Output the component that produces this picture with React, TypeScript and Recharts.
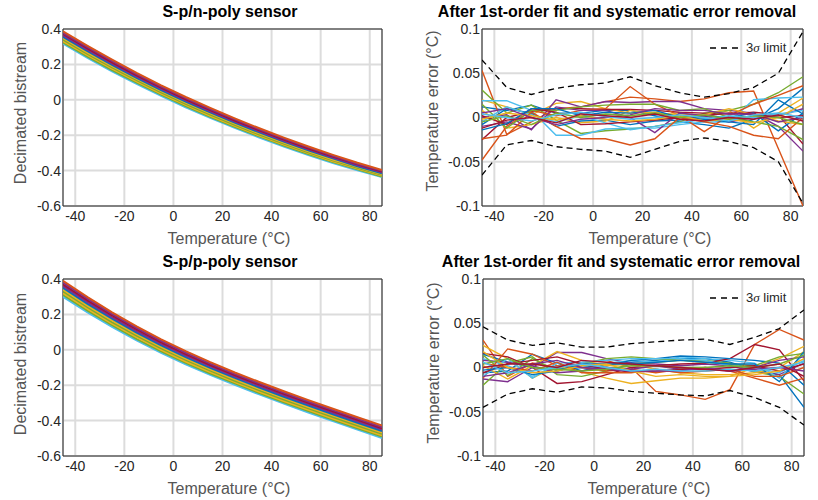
import React from "react";
import { LineChart, Line, XAxis, YAxis, CartesianGrid, ReferenceArea } from "recharts";

const FONT = '"Liberation Sans", Arial, Helvetica, sans-serif';
const TICK = "#262626";
const LABEL = "#555555";

// MATLAB default colour order
const BLUE = "#0072BD";
const ORANGE = "#D95319";
const YELLOW = "#EDB120";
const PURPLE = "#7E2F8E";
const GREEN = "#77AC30";
const CYAN = "#4DBEEE";
const WINE = "#A2142F";
const cycle = [BLUE, ORANGE, YELLOW, PURPLE, GREEN, CYAN, WINE];

// temperature sweep (°C) and tick labels
const temps = [-45, -35, -25, -15, -5, 5, 15, 25, 35, 45, 55, 65, 75, 85];
const tempTicks = [-40, -20, 0, 20, 40, 60, 80];
const bitTicks = [-0.6, -0.4, -0.2, 0, 0.2, 0.4];
const errTicks = [-0.1, -0.05, 0, 0.05, 0.1];

// S-p/n-poly sensor: decimated bitstream, top of the band to bottom
const nPoly01 = [0.387, 0.305, 0.227, 0.152, 0.082, 0.016, -0.046, -0.105, -0.161, -0.214, -0.264, -0.311, -0.356, -0.397];
const nPoly02 = [0.379, 0.298, 0.22, 0.145, 0.075, 0.01, -0.052, -0.111, -0.167, -0.219, -0.269, -0.316, -0.361, -0.401];
const nPoly03 = [0.372, 0.29, 0.212, 0.138, 0.069, 0.003, -0.058, -0.117, -0.172, -0.225, -0.275, -0.321, -0.365, -0.406];
const nPoly04 = [0.364, 0.282, 0.205, 0.131, 0.062, -0.003, -0.065, -0.123, -0.178, -0.231, -0.28, -0.326, -0.37, -0.41];
const nPoly05 = [0.356, 0.275, 0.198, 0.124, 0.055, -0.01, -0.071, -0.129, -0.184, -0.236, -0.285, -0.331, -0.375, -0.415];
const nPoly06 = [0.348, 0.267, 0.19, 0.118, 0.049, -0.016, -0.077, -0.135, -0.19, -0.242, -0.291, -0.337, -0.379, -0.419];
const nPoly07 = [0.34, 0.26, 0.183, 0.111, 0.042, -0.023, -0.083, -0.141, -0.196, -0.247, -0.296, -0.342, -0.384, -0.424];
const nPoly08 = [0.332, 0.252, 0.176, 0.104, 0.035, -0.029, -0.09, -0.147, -0.202, -0.253, -0.301, -0.347, -0.389, -0.428];
const nPoly09 = [0.325, 0.244, 0.168, 0.097, 0.029, -0.036, -0.096, -0.153, -0.207, -0.259, -0.307, -0.352, -0.393, -0.433];
const nPoly10 = [0.317, 0.237, 0.161, 0.09, 0.022, -0.042, -0.102, -0.159, -0.213, -0.264, -0.312, -0.357, -0.398, -0.437];

// S-p/p-poly sensor
const pPoly01 = [0.39, 0.298, 0.212, 0.133, 0.059, -0.008, -0.07, -0.128, -0.182, -0.234, -0.284, -0.333, -0.381, -0.428];
const pPoly02 = [0.38, 0.289, 0.203, 0.124, 0.051, -0.016, -0.078, -0.136, -0.19, -0.242, -0.292, -0.341, -0.389, -0.436];
const pPoly03 = [0.37, 0.279, 0.194, 0.115, 0.042, -0.024, -0.086, -0.143, -0.197, -0.249, -0.299, -0.348, -0.396, -0.443];
const pPoly04 = [0.36, 0.269, 0.185, 0.106, 0.034, -0.033, -0.094, -0.151, -0.205, -0.257, -0.307, -0.356, -0.404, -0.451];
const pPoly05 = [0.35, 0.26, 0.176, 0.097, 0.025, -0.041, -0.102, -0.159, -0.213, -0.265, -0.315, -0.364, -0.412, -0.459];
const pPoly06 = [0.34, 0.25, 0.166, 0.089, 0.017, -0.049, -0.11, -0.167, -0.221, -0.273, -0.323, -0.372, -0.42, -0.467];
const pPoly07 = [0.33, 0.241, 0.157, 0.08, 0.008, -0.057, -0.118, -0.175, -0.229, -0.281, -0.331, -0.38, -0.428, -0.475];
const pPoly08 = [0.32, 0.231, 0.148, 0.071, 0.0, -0.066, -0.126, -0.183, -0.237, -0.289, -0.339, -0.388, -0.436, -0.483];
const pPoly09 = [0.31, 0.221, 0.139, 0.062, -0.009, -0.074, -0.134, -0.19, -0.244, -0.296, -0.346, -0.395, -0.443, -0.49];
const pPoly10 = [0.3, 0.212, 0.13, 0.053, -0.017, -0.082, -0.142, -0.198, -0.252, -0.304, -0.354, -0.403, -0.451, -0.498];

const bandColors = [ORANGE, PURPLE, WINE, PURPLE, BLUE, YELLOW, GREEN, YELLOW, GREEN, CYAN];

// n-poly residual temperature error (°C) after 1st-order fit
const errN01 = [0.012, 0.008, 0.014, 0.005, 0.005, 0.008, 0.008, 0.002, -0.005, -0.008, -0.012, -0.002, 0.01, 0.033];
const errN02 = [0.053, -0.019, -0.005, 0.01, 0.012, 0.018, 0.023, 0.021, 0.018, 0.021, 0.028, 0.03, -0.035, -0.1];
const errN03 = [0.02, 0.012, 0.003, 0.016, 0.018, 0.01, 0.005, 0.006, 0.002, 0.0, 0.008, -0.012, 0.005, 0.022];
const errN04 = [0.0, 0.003, -0.014, 0.02, 0.012, 0.018, 0.017, 0.018, 0.018, 0.01, 0.008, 0.005, -0.01, -0.038];
const errN05 = [0.031, 0.005, 0.014, -0.003, -0.018, -0.015, -0.013, -0.01, -0.005, 0.005, 0.008, 0.015, 0.028, 0.046];
const errN06 = [0.019, 0.019, 0.008, -0.02, -0.02, -0.013, -0.012, -0.012, -0.008, -0.005, -0.005, 0.02, 0.022, 0.023];
const errN07 = [-0.025, 0.0, 0.007, 0.01, 0.01, 0.009, 0.009, 0.008, 0.006, 0.005, 0.004, 0.006, 0.003, -0.03];
const errN08 = [-0.008, 0.01, 0.005, -0.01, -0.004, -0.003, -0.008, -0.004, -0.003, 0.002, 0.0, 0.005, -0.015, 0.005];
const errN09 = [-0.048, -0.01, 0.008, 0.002, 0.008, 0.01, 0.035, 0.015, 0.002, -0.016, 0.002, 0.015, 0.025, 0.036];
const errN10 = [0.008, -0.012, -0.008, 0.0, -0.006, -0.004, 0.008, 0.004, 0.004, 0.003, 0.01, 0.003, -0.004, -0.008];
const errN11 = [-0.01, -0.005, -0.013, 0.012, 0.008, 0.008, 0.0, -0.017, 0.005, 0.002, -0.005, 0.0, 0.002, 0.01];
const errN12 = [0.015, -0.012, 0.008, 0.008, 0.012, 0.014, 0.015, 0.015, 0.008, 0.01, 0.0, -0.005, -0.01, -0.025];
const errN13 = [-0.005, 0.012, 0.003, -0.005, 0.002, -0.006, -0.014, -0.01, -0.006, -0.002, 0.002, 0.0, 0.004, 0.008];
const errN14 = [0.002, -0.008, 0.01, 0.006, -0.008, -0.007, -0.005, -0.003, 0.0, 0.002, 0.005, 0.004, 0.0, 0.002];
const errN15 = [-0.014, -0.007, 0.01, 0.01, 0.002, 0.006, 0.005, 0.008, 0.0, -0.002, -0.005, -0.008, 0.02, 0.004];
const errN16 = [-0.024, -0.02, 0.006, -0.01, -0.024, -0.024, -0.031, -0.024, 0.0, -0.005, -0.01, -0.02, -0.024, 0.0];
const errN17 = [-0.002, 0.005, 0.002, -0.003, 0.002, -0.002, -0.004, -0.002, 0.002, -0.004, -0.002, -0.006, 0.0, 0.015];
const errN18 = [0.005, 0.01, 0.0, -0.008, -0.002, 0.0, 0.003, 0.01, 0.008, 0.008, 0.004, 0.004, -0.005, 0.0];
const errN19 = [-0.005, 0.002, -0.008, 0.005, 0.0, 0.004, 0.002, 0.005, 0.0, 0.003, -0.002, 0.002, 0.0, -0.008];
const errN20 = [0.004, 0.0, -0.004, 0.003, 0.006, 0.001, -0.002, 0.0, 0.003, 0.0, -0.004, 0.003, 0.005, 0.0];
const errN21 = [-0.012, -0.003, 0.0, -0.006, 0.004, 0.002, 0.0, 0.004, -0.002, -0.004, 0.0, -0.002, 0.003, -0.004];
const sigmaNUpper = [0.065, 0.034, 0.026, 0.033, 0.037, 0.039, 0.046, 0.036, 0.028, 0.023, 0.027, 0.034, 0.05, 0.097];
const sigmaNLower = [-0.065, -0.031, -0.026, -0.033, -0.036, -0.038, -0.045, -0.036, -0.027, -0.023, -0.027, -0.034, -0.05, -0.097];

// p-poly residual temperature error (°C)
const errP01 = [-0.006, -0.004, 0.015, 0.005, -0.004, 0.003, 0.006, 0.008, 0.01, 0.01, 0.006, -0.003, -0.008, -0.045];
const errP02 = [0.031, -0.01, 0.005, 0.0, 0.005, 0.008, 0.0, -0.027, -0.031, -0.036, -0.025, 0.026, 0.043, 0.031];
const errP03 = [0.025, 0.01, -0.012, 0.002, -0.005, -0.012, -0.018, -0.015, -0.012, -0.012, -0.01, 0.0, 0.01, 0.024];
const errP04 = [-0.013, -0.016, 0.0, 0.017, 0.017, 0.01, 0.005, 0.004, 0.002, 0.004, 0.002, -0.005, -0.008, 0.005];
const errP05 = [-0.02, 0.005, 0.012, -0.008, -0.01, -0.004, 0.004, 0.006, 0.008, 0.008, 0.005, -0.005, -0.01, -0.03];
const errP06 = [0.01, 0.002, -0.01, 0.002, 0.0, 0.005, 0.008, 0.006, 0.012, 0.01, 0.008, 0.005, -0.012, 0.015];
const errP07 = [0.016, 0.012, 0.0, -0.018, -0.016, -0.008, 0.0, 0.002, 0.004, 0.005, 0.01, 0.026, 0.02, -0.015];
const errP08 = [0.015, 0.006, 0.0, -0.002, 0.0, 0.002, 0.008, 0.01, 0.013, 0.012, 0.01, 0.008, 0.005, -0.02];
const errP09 = [-0.012, 0.021, 0.015, 0.002, 0.0, -0.004, -0.002, -0.006, -0.002, 0.0, -0.004, -0.012, -0.02, -0.012];
const errP10 = [0.002, -0.013, 0.002, 0.018, 0.008, 0.002, 0.004, -0.002, -0.006, -0.008, -0.008, -0.006, 0.0, 0.018];
const errP11 = [0.008, 0.006, 0.002, -0.006, -0.004, 0.0, -0.002, 0.002, -0.002, -0.002, -0.004, 0.0, 0.008, 0.012];
const errP12 = [0.014, -0.009, 0.01, -0.004, 0.004, 0.01, 0.012, 0.01, 0.008, 0.006, 0.004, 0.002, 0.012, 0.016];
const errP13 = [-0.01, 0.01, -0.012, 0.005, 0.006, 0.008, 0.01, 0.01, 0.01, 0.008, 0.002, 0.0, -0.006, 0.008];
const errP14 = [-0.006, 0.004, 0.008, 0.012, 0.004, -0.002, -0.005, -0.004, -0.002, -0.002, 0.0, 0.002, -0.004, 0.004];
const errP15 = [-0.003, 0.0, -0.008, -0.004, 0.004, 0.004, 0.004, 0.006, 0.008, 0.006, 0.004, 0.004, -0.016, 0.018];
const errP16 = [0.005, 0.0, -0.004, 0.006, -0.006, -0.006, -0.006, -0.002, -0.006, -0.004, -0.002, -0.01, -0.01, 0.0];
const errP17 = [0.018, 0.0, -0.006, -0.004, 0.002, 0.004, -0.004, -0.01, -0.008, -0.01, -0.01, -0.008, -0.004, 0.01];
const errP18 = [-0.01, -0.006, 0.004, 0.008, 0.0, -0.002, -0.004, -0.004, -0.004, 0.0, -0.004, -0.002, 0.0, -0.004];
const errP19 = [0.004, 0.01, 0.0, -0.002, -0.004, -0.002, 0.002, 0.002, 0.0, 0.0, 0.002, 0.0, 0.004, 0.014];
const errP20 = [0.006, -0.006, -0.004, 0.0, 0.004, 0.0, -0.004, -0.002, -0.004, -0.004, -0.002, -0.004, 0.0, 0.006];
const errP21 = [0.0, 0.004, 0.004, 0.0, 0.008, 0.006, 0.004, 0.002, 0.0, -0.002, -0.004, 0.0, 0.004, -0.01];
const sigmaPUpper = [0.046, 0.031, 0.025, 0.028, 0.023, 0.023, 0.027, 0.029, 0.031, 0.032, 0.026, 0.034, 0.044, 0.065];
const sigmaPLower = [-0.045, -0.03, -0.024, -0.028, -0.022, -0.023, -0.027, -0.029, -0.031, -0.032, -0.026, -0.034, -0.045, -0.065];

interface LineSpec {
  key: string;
  values: number[];
  color: string;
  width: number;
  dashed?: boolean;
}

function band(curves: number[][]): LineSpec[] {
  // drawn bottom curve first so the upper ones sit on top
  return curves
    .map((values, i) => ({ key: `c${i}`, values, color: bandColors[i], width: 2 }))
    .reverse();
}

function residuals(curves: number[][], upper: number[], lower: number[]): LineSpec[] {
  const lines: LineSpec[] = curves.map((values, i) => ({
    key: `e${i}`,
    values,
    color: cycle[i % cycle.length],
    width: 1.4,
  }));
  lines.push({ key: "sUp", values: upper, color: "#000", width: 1.3, dashed: true });
  lines.push({ key: "sLo", values: lower, color: "#000", width: 1.3, dashed: true });
  return lines;
}

function buildRows(lines: LineSpec[]) {
  return temps.map((t, i) => {
    const row: Record<string, number> = { t };
    lines.forEach((l) => {
      row[l.key] = l.values[i];
    });
    return row;
  });
}

interface PanelProps {
  left: number;
  top: number;
  plotLeft: number;
  plotRight: number;
  title: string;
  titleCenter: number;
  yLabel: string;
  yLabelX: number;
  yLabelY: number;
  xLabelX: number;
  yDomain: [number, number];
  yTicks: number[];
  lines: LineSpec[];
  legend?: boolean;
}

const W = 409;
const H = 250;

function Panel(p: PanelProps) {
  const rows = buildRows(p.lines);
  const tickStyle = { fontSize: 14, fill: TICK, fontFamily: FONT };
  return (
    <div style={{ position: "absolute", left: p.left, top: p.top, width: W, height: H }}>
      <div
        style={{
          position: "absolute",
          left: p.titleCenter - 230,
          width: 460,
          top: 4,
          textAlign: "center",
          fontFamily: FONT,
          fontWeight: "bold",
          fontSize: 16,
          lineHeight: "16px",
          whiteSpace: "nowrap",
          color: "#000",
        }}
      >
        {p.title}
      </div>
      <LineChart
        width={W}
        height={H}
        data={rows}
        margin={{ top: 29, right: W - p.plotRight, bottom: 0, left: 0 }}
      >
        <CartesianGrid stroke="#dcdcdc" strokeWidth={2} />
        <XAxis
          dataKey="t"
          type="number"
          domain={[-45, 85]}
          ticks={tempTicks}
          interval={0}
          allowDataOverflow
          axisLine={false}
          tickLine={false}
          tickSize={1}
          tickMargin={4}
          height={H - 29 - 177}
          tick={tickStyle}
          label={{
            value: "Temperature (°C)",
            content: () => (
              <text x={p.xLabelX} y={244} textAnchor="middle" fontSize={16} fill={LABEL} fontFamily={FONT}>
                Temperature (°C)
              </text>
            ),
          }}
        />
        <YAxis
          type="number"
          domain={p.yDomain}
          ticks={p.yTicks}
          interval={0}
          allowDataOverflow
          axisLine={false}
          tickLine={false}
          tickSize={1}
          tickMargin={1}
          width={p.plotLeft}
          tick={tickStyle}
          label={{
            value: p.yLabel,
            content: () => (
              <text
                x={p.yLabelX}
                y={p.yLabelY}
                transform={`rotate(-90 ${p.yLabelX} ${p.yLabelY})`}
                textAnchor="middle"
                dominantBaseline="central"
                fontSize={16}
                fill={LABEL}
                fontFamily={FONT}
              >
                {p.yLabel}
              </text>
            ),
          }}
        />
        {p.lines.map((l) => (
          <Line
            key={l.key}
            dataKey={l.key}
            type="linear"
            stroke={l.color}
            strokeWidth={l.width}
            strokeDasharray={l.dashed ? "6 4" : undefined}
            dot={false}
            activeDot={false}
            isAnimationActive={false}
          />
        ))}
        <ReferenceArea
          x1={-45}
          x2={85}
          y1={p.yDomain[0]}
          y2={p.yDomain[1]}
          fill="none"
          stroke="#262626"
          strokeWidth={1}
        />
      </LineChart>
      {p.legend && (
        <div
          style={{
            position: "absolute",
            left: 301,
            top: 40,
            display: "flex",
            alignItems: "center",
            fontFamily: FONT,
            fontSize: 13,
            color: TICK,
            whiteSpace: "nowrap",
          }}
        >
          <svg width={32} height={6}>
            <line x1={0} y1={3} x2={32} y2={3} stroke="#000" strokeWidth={1.3} strokeDasharray="6 5" />
          </svg>
          <span style={{ marginLeft: 4 }}>
            3<i style={{ fontFamily: '"Liberation Serif", serif' }}>σ</i> limit
          </span>
        </div>
      )}
    </div>
  );
}

export default function App() {
  const nBand = band([nPoly01, nPoly02, nPoly03, nPoly04, nPoly05, nPoly06, nPoly07, nPoly08, nPoly09, nPoly10]);
  const pBand = band([pPoly01, pPoly02, pPoly03, pPoly04, pPoly05, pPoly06, pPoly07, pPoly08, pPoly09, pPoly10]);
  const nErr = residuals(
    [errN01, errN02, errN03, errN04, errN05, errN06, errN07, errN08, errN09, errN10, errN11,
      errN12, errN13, errN14, errN15, errN16, errN17, errN18, errN19, errN20, errN21],
    sigmaNUpper,
    sigmaNLower
  );
  const pErr = residuals(
    [errP01, errP02, errP03, errP04, errP05, errP06, errP07, errP08, errP09, errP10, errP11,
      errP12, errP13, errP14, errP15, errP16, errP17, errP18, errP19, errP20, errP21],
    sigmaPUpper,
    sigmaPLower
  );

  return (
    <div style={{ position: "absolute", left: 0, top: 0, width: 818, height: 500, background: "#fff" }}>
      <Panel
        left={0}
        top={0}
        plotLeft={63}
        plotRight={382}
        title="S-p/n-poly sensor"
        titleCenter={230}
        yLabel="Decimated bistream"
        yLabelX={20}
        yLabelY={113}
        xLabelX={229}
        yDomain={[-0.6, 0.4]}
        yTicks={bitTicks}
        lines={nBand}
      />
      <Panel
        left={409}
        top={0}
        plotLeft={73}
        plotRight={394}
        title="After 1st-order fit and systematic error removal"
        titleCenter={208}
        yLabel="Temperature error (°C)"
        yLabelX={23}
        yLabelY={111}
        xLabelX={241}
        yDomain={[-0.1, 0.1]}
        yTicks={errTicks}
        lines={nErr}
        legend
      />
      <Panel
        left={0}
        top={250}
        plotLeft={63}
        plotRight={382}
        title="S-p/p-poly sensor"
        titleCenter={230}
        yLabel="Decimated bistream"
        yLabelX={20}
        yLabelY={114}
        xLabelX={229}
        yDomain={[-0.6, 0.4]}
        yTicks={bitTicks}
        lines={pBand}
      />
      <Panel
        left={409}
        top={250}
        plotLeft={74}
        plotRight={395}
        title="After 1st-order fit and systematic error removal"
        titleCenter={212}
        yLabel="Temperature error (°C)"
        yLabelX={24}
        yLabelY={113}
        xLabelX={240}
        yDomain={[-0.1, 0.1]}
        yTicks={errTicks}
        lines={pErr}
        legend
      />
    </div>
  );
}
